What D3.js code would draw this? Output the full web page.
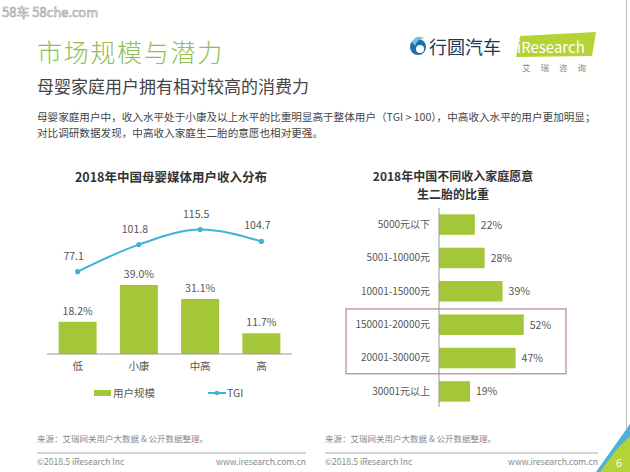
<!DOCTYPE html>
<html><head><meta charset="utf-8">
<script src="https://cdn.jsdelivr.net/npm/d3@7"></script>
<style>
html,body{margin:0;padding:0;background:#fff;}
svg{display:block;font-family:"Noto Sans CJK SC","Noto Sans",sans-serif;}
</style></head>
<body>
<svg id="c" width="630" height="472"></svg>
<script>
// ---- data ----
const incomeCategories = ["低", "小康", "中高", "高"];
const userShare = [18.2, 39.0, 31.1, 11.7];
const tgiValues = [77.1, 101.8, 115.5, 104.7];
const legendLabels = ["用户规模", "TGI"];

const secondChildCategories = ["5000元以下", "5001-10000元", "10001-15000元", "150001-20000元", "20001-30000元", "30001元以上"];
const secondChildShare = [22, 28, 39, 52, 47, 19];
const highlighted = ["150001-20000元", "20001-30000元"];

const barGreen = "#a4c639";
const lineBlue = "#40b3d4";
const textGray = "#555";

const svg = d3.select("#c");

// ---- header ----
svg.append("text").attr("x", 2).attr("y", 17).attr("font-size", 13)
  .attr("fill", "#fff").attr("stroke", "#9a9a9a").attr("stroke-width", 0.6)
  .text("58车  58che.com");

svg.append("text").attr("x", 37).attr("y", 62).attr("font-size", 25).attr("letter-spacing", 1.7)
  .attr("fill", "#8dc04f").attr("font-weight", 300).text("市场规模与潜力");
svg.append("text").attr("x", 37).attr("y", 93).attr("font-size", 17)
  .attr("fill", "#444").text("母婴家庭用户拥有相对较高的消费力");
svg.append("text").attr("x", 37).attr("y", 121).attr("font-size", 10.6)
  .attr("fill", "#444").text("母婴家庭用户中，收入水平处于小康及以上水平的比重明显高于整体用户（TGI > 100），中高收入水平的用户更加明显；");
svg.append("text").attr("x", 37).attr("y", 137).attr("font-size", 10.6)
  .attr("fill", "#444").text("对比调研数据发现，中高收入家庭生二胎的意愿也相对更强。");

// logos
const lg = svg.append("g");
lg.append("circle").attr("cx", 418).attr("cy", 47).attr("r", 8).attr("fill", "#1f6fa8");
lg.append("circle").attr("cx", 420).attr("cy", 49).attr("r", 4).attr("fill", "#fff");
lg.append("path").attr("d", "M412,42 Q416,34 424,38 Q417,39 415,46 Z").attr("fill", "#6fc0e8");
lg.append("text").attr("x", 429).attr("y", 54).attr("font-size", 18).attr("fill", "#1d3557").text("行圆汽车");
lg.append("path").attr("d", "M520,36 L596,32 L592,56 L516,57 Z").attr("fill", "#b5d334");
lg.append("text").attr("x", 517).attr("y", 53).attr("font-size", 15).attr("fill", "#fff").text("iResearch");
lg.append("text").attr("x", 522).attr("y", 71).attr("font-size", 8.5).attr("fill", "#888")
  .attr("letter-spacing", 10).text("艾瑞咨询");

// ---- left chart ----
svg.append("text").attr("x", 171).attr("y", 182).attr("text-anchor", "middle")
  .attr("font-size", 12.5).attr("font-weight", "bold").attr("fill", "#333")
  .text("2018年中国母婴媒体用户收入分布");

const x = d3.scaleBand().domain(incomeCategories).range([47, 292]).paddingInner(0.38).paddingOuter(0.19);
const yBar = d3.scaleLinear().domain([0, 50]).range([354, 265.5]);
const yTgi = d3.scaleLinear().domain([0, 140]).range([356, 202.8]);

const left = svg.append("g");
left.selectAll("rect.bar").data(incomeCategories).join("rect")
  .attr("x", d => x(d)).attr("width", x.bandwidth())
  .attr("y", (d, i) => yBar(userShare[i])).attr("height", (d, i) => yBar(0) - yBar(userShare[i]))
  .attr("fill", barGreen);
left.selectAll("text.bl").data(incomeCategories).join("text")
  .attr("x", d => x(d) + x.bandwidth() / 2).attr("y", (d, i) => yBar(userShare[i]) - 7)
  .attr("text-anchor", "middle").attr("font-size", 10.5).attr("fill", textGray)
  .text((d, i) => userShare[i].toFixed(1) + "%");

const xAxis = left.append("g").attr("transform", "translate(0,354)")
  .call(d3.axisBottom(x).tickSize(0).tickPadding(9));
xAxis.select(".domain").attr("stroke", "#999").attr("d", "M47,0H292");
xAxis.selectAll("text").attr("font-size", 10.5).attr("fill", textGray)
  .attr("font-family", '"Noto Sans CJK SC",sans-serif');

const line = d3.line().x((d, i) => x(incomeCategories[i]) + x.bandwidth() / 2).y(d => yTgi(d))
  .curve(d3.curveMonotoneX);
left.append("path").datum(tgiValues).attr("d", line).attr("fill", "none")
  .attr("stroke", lineBlue).attr("stroke-width", 2);
left.selectAll("circle.p").data(tgiValues).join("circle")
  .attr("cx", (d, i) => x(incomeCategories[i]) + x.bandwidth() / 2).attr("cy", d => yTgi(d))
  .attr("r", 2.6).attr("fill", lineBlue);
left.selectAll("text.tl").data(tgiValues).join("text")
  .attr("x", (d, i) => x(incomeCategories[i]) + x.bandwidth() / 2 - 4).attr("y", d => yTgi(d) - 12)
  .attr("text-anchor", "middle").attr("font-size", 10.5).attr("fill", textGray)
  .text(d => d.toFixed(1));

// legend
left.append("rect").attr("x", 94).attr("y", 390).attr("width", 17).attr("height", 6).attr("fill", barGreen);
left.append("text").attr("x", 113).attr("y", 397).attr("font-size", 10.5).attr("fill", textGray).text(legendLabels[0]);
left.append("line").attr("x1", 208).attr("x2", 226).attr("y1", 393).attr("y2", 393)
  .attr("stroke", lineBlue).attr("stroke-width", 2);
left.append("circle").attr("cx", 217).attr("cy", 393).attr("r", 2.3).attr("fill", lineBlue);
left.append("text").attr("x", 227).attr("y", 397).attr("font-size", 10.5).attr("fill", textGray).text(legendLabels[1]);

// ---- right chart ----
svg.append("text").attr("x", 453).attr("y", 181).attr("text-anchor", "middle")
  .attr("font-size", 12).attr("font-weight", "bold").attr("fill", "#333")
  .text("2018年中国不同收入家庭愿意");
svg.append("text").attr("x", 453).attr("y", 198.5).attr("text-anchor", "middle")
  .attr("font-size", 12).attr("font-weight", "bold").attr("fill", "#333")
  .text("生二胎的比重");

const y2 = d3.scaleBand().domain(secondChildCategories).range([208, 408]).paddingInner(0.386).paddingOuter(0.19);
const x2 = d3.scaleLinear().domain([0, 100]).range([439, 602]);

const right = svg.append("g");
const hb = highlighted.map(d => y2(d));
right.append("rect").attr("x", 346).attr("width", 220)
  .attr("y", d3.min(hb) - 5.5).attr("height", d3.max(hb) + y2.bandwidth() + 5.5 - (d3.min(hb) - 5.5))
  .attr("fill", "none").attr("stroke", "#b98590").attr("stroke-width", 1.2);

right.selectAll("rect.b").data(secondChildCategories).join("rect")
  .attr("x", x2(0)).attr("y", d => y2(d)).attr("height", y2.bandwidth())
  .attr("width", (d, i) => x2(secondChildShare[i]) - x2(0)).attr("fill", barGreen);
right.selectAll("text.v").data(secondChildCategories).join("text")
  .attr("x", (d, i) => x2(secondChildShare[i]) + 6).attr("y", d => y2(d) + y2.bandwidth() / 2 + 4)
  .attr("font-size", 10.5).attr("fill", textGray).text((d, i) => secondChildShare[i] + "%");

const yAxis = right.append("g").attr("transform", "translate(439,0)")
  .call(d3.axisLeft(y2).tickSize(0).tickPadding(9));
yAxis.select(".domain").attr("stroke", "#999").attr("d", "M0,208V407");
yAxis.selectAll("text").attr("font-size", 10).attr("fill", textGray)
  .attr("font-family", '"Noto Sans CJK SC",sans-serif');

// ---- footers ----
function footer(x0, x1) {
  svg.append("text").attr("x", x0).attr("y", 442).attr("font-size", 8.5).attr("fill", "#888")
    .text("来源：艾瑞网关用户大数据 & 公开数据整理。");
  svg.append("line").attr("x1", x0).attr("x2", x1).attr("y1", 453).attr("y2", 453)
    .attr("stroke", "#aaa").attr("stroke-width", 1);
  svg.append("text").attr("x", x0).attr("y", 465).attr("font-size", 8.5).attr("fill", "#888")
    .text("©2018.5 iResearch Inc");
  svg.append("text").attr("x", x1).attr("y", 465).attr("text-anchor", "end").attr("font-size", 8.5)
    .attr("fill", "#888").text("www.iresearch.com.cn");
}
footer(37, 306);
footer(325, 598);

// corner
svg.append("path").attr("d", "M630,424 L630,472 L596,472 Z").attr("fill", "#4fb0dc");
svg.append("path").attr("d", "M630,436 L630,472 L600,472 L617,449 Z").attr("fill", "#b5d334");
svg.append("text").attr("x", 616).attr("y", 467).attr("font-size", 11).attr("fill", "#fff").text("6");
svg.append("line").attr("x1", 626.5).attr("x2", 626.5).attr("y1", 0).attr("y2", 430)
  .attr("stroke", "#bbb").attr("stroke-width", 1);
</script>
</body></html>
